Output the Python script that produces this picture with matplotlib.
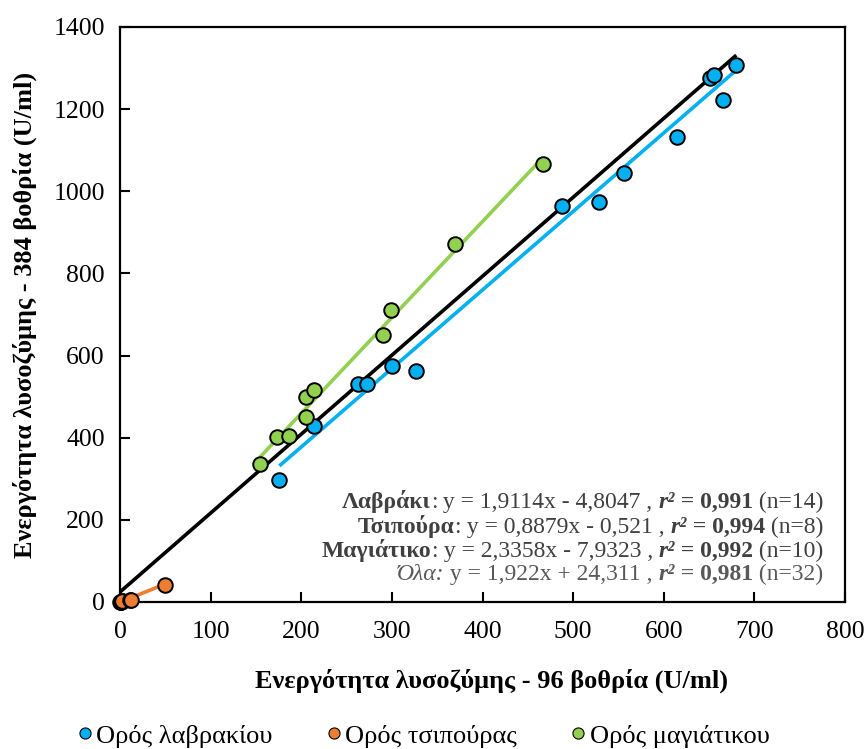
import matplotlib
matplotlib.use("Agg")

import numpy as np
import matplotlib.pyplot as plt
from matplotlib.lines import Line2D
from matplotlib.offsetbox import AnchoredOffsetbox, HPacker, TextArea, VPacker

plt.rcParams["font.family"] = ["Liberation Serif", "DejaVu Serif"]

# ── Measurements (U/ml): 96-well vs 384-well plates ─────────────────────
bass_x = [175.8, 214, 263, 272, 300, 326.7, 487.9, 529, 556.6, 615, 651, 655, 665, 680]
bass_y = [297, 428.5, 530, 530, 574.6, 563, 965, 974, 1045, 1133, 1275, 1283, 1222, 1307]

bream_x = [0.4, 0.8, 1.2, 1.9, 2.6, 11.0, 12.4, 49.5]
bream_y = [0.1, 0.3, 0.6, 1.2, 1.8, 5.5, 6.0, 41.0]

amberjack_x = [154.5, 173.6, 186.5, 205.3, 205.3, 214, 290.6, 299, 370, 467]
amberjack_y = [336, 402, 404, 450, 498, 515, 650, 712, 872, 1066]

# linear fits (slope, intercept) as reported
bass_fit = (1.9114, -4.8047)
bream_fit = (0.8879, -0.521)
amberjack_fit = (2.3358, -7.9323)
all_fit = (1.922, 24.311)

series_names = ["Ορός λαβρακίου", "Ορός τσιπούρας", "Ορός μαγιάτικου"]
colours = ["#00B0F0", "#ED7D31", "#92D050"]

x_ticks = [0, 100, 200, 300, 400, 500, 600, 700, 800]
y_ticks = [0, 200, 400, 600, 800, 1000, 1200, 1400]

TEXT_GREY = "#404040"
EQ_SIZE = 17

fig = plt.figure(figsize=(8.66, 7.49), dpi=100)
ax = fig.add_axes([0.1386, 0.1963, 0.8372, 0.7677])

groups = [(bass_x, bass_y, bass_fit), (bream_x, bream_y, bream_fit),
          (amberjack_x, amberjack_y, amberjack_fit)]

# fitted lines span each group's own x range
for (xs, ys, (m, b)), col in zip(groups, colours):
    xl = np.array([min(xs), max(xs)])
    ax.plot(xl, m * xl + b, color=col, lw=2.6, zorder=2, solid_capstyle="butt")

all_x = bass_x + bream_x + amberjack_x
xl = np.array([0, max(all_x)])
ax.plot(xl, all_fit[0] * xl + all_fit[1], color="black", lw=2.6, zorder=3,
        solid_capstyle="butt")

for (xs, ys, _), col in zip(groups, colours):
    ax.scatter(xs, ys, s=110, color=col, edgecolor="black", linewidth=1.4,
               zorder=4, clip_on=False)

ax.set_xlim(0, 800)
ax.set_ylim(0, 1400)
ax.set_xticks(x_ticks)
ax.set_yticks(y_ticks)
ax.tick_params(direction="in", length=7, width=1.5, labelsize=18.5)
ax.tick_params(axis="x", pad=14)
ax.tick_params(axis="y", pad=11)
for sp in ax.spines.values():
    sp.set_linewidth(1.6)

ax.set_xlabel("Ενεργότητα λυσοζύμης - 96 βοθρία (U/ml)", fontsize=19,
              fontweight="bold", labelpad=17)
ax.xaxis.set_label_coords(0.512, -0.115)
ax.set_ylabel("Ενεργότητα λυσοζύμης - 384 βοθρία (U/ml)", fontsize=19,
              fontweight="bold", labelpad=12)

# ── Regression equations, mixed font styles per line ────────────────────
def fit_line(name, m, b, r2, n, colour=TEXT_GREY, italic_name=False):
    sign = "+" if b >= 0 else "-"
    bval = f"{abs(b):g}".replace(".", ",")
    mval = f"{m:g}".replace(".", ",")
    if italic_name:
        head = [(name + ":", dict(fontstyle="italic"))]
    else:
        head = [(name, dict(fontweight="bold")), (":", dict())]
    parts = head + [
        (f" y = {mval}x {sign} {bval} , ", dict()),
        ("r²", dict(fontweight="bold", fontstyle="italic")),
        (f" = {r2}", dict(fontweight="bold")),
        (f" (n={n})", dict()),
    ]
    areas = [TextArea(txt, textprops=dict(fontsize=EQ_SIZE, color=colour, **kw))
             for txt, kw in parts]
    return HPacker(children=areas, pad=0, sep=0, align="baseline")

rows = [
    fit_line("Λαβράκι", *bass_fit, "0,991", 14),
    fit_line("Τσιπούρα", *bream_fit, "0,994", 8),
    fit_line("Μαγιάτικο", *amberjack_fit, "0,992", 10),
    fit_line("Όλα", *all_fit, "0,981", 32, colour="#595959", italic_name=True),
]

box = VPacker(children=rows, pad=0, sep=1, align="right")
anchored = AnchoredOffsetbox(loc="lower right", child=box, pad=0, frameon=False,
                             bbox_to_anchor=(0.97, 0.03), bbox_transform=ax.transAxes,
                             borderpad=0)
ax.add_artist(anchored)

handles = [Line2D([], [], ls="none", marker="o", markersize=8, markerfacecolor=c,
                  markeredgecolor="black", markeredgewidth=0.8) for c in colours]
fig.legend(handles, series_names, loc="lower center", ncol=3, frameon=False,
           fontsize=19, bbox_to_anchor=(0.487, -0.03), handletextpad=0.05,
           handlelength=0.8, columnspacing=1.9)

fig.savefig("out.png", dpi=100, facecolor="white")
